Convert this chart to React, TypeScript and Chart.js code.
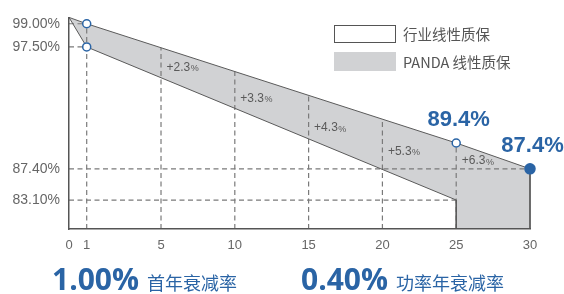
import React, { useEffect, useRef } from 'react';
import { Chart, registerables, LinearScale } from 'chart.js';

// ---------- data ----------
const pandaYears = [0, 1, 25, 30, 30];
const pandaValues = [100, 99, 89.4, 87.4, 80];
const industryYears = [0, 1, 25, 25];
const industryValues = [100, 97.5, 83.1, 80];

const xTicks = [0, 1, 5, 10, 15, 20, 25, 30];
const yTicks = [83.1, 87.4, 97.5, 99];

const gainYears = [5, 10, 15, 20, 25];
const gainLabels = ['+2.3', '+3.3', '+4.3', '+5.3', '+6.3'];
const gainLabelValues = [95.75, 93.15, 90.65, 88.75, 88.0];

const refYears = [1, 1, 25, 30];
const refValues = [99, 97.5, 83.1, 87.4];
const dropYears = [1, 5, 10, 15, 20, 25];

const calloutYears = [25, 30];
const calloutValues = [89.4, 87.4];

const legendLabels = ['行业线性质保', 'PANDA 线性质保'];
const summaryValues = ['1.00%', '0.40%'];
const summaryLabels = ['首年衰减率', '功率年衰减率'];

// ---------- schematic (piecewise) axis layout ----------
const BREAKS: Record<string, number[][]> = {
  x: [[0, 0], [1, 0.0384], [5, 0.1996], [30, 1]],
  y: [[80, 0], [83.1, 0.1369], [87.4, 0.2843], [89.4, 0.4065], [97.5, 0.8604], [99, 0.97], [100, 1]],
};

function interp(b: number[][], v: number, from: number, to: number) {
  for (let i = 0; i < b.length - 1; i++) {
    const a = b[i], c = b[i + 1];
    if (v <= c[from] || i === b.length - 2) {
      const t = (v - a[from]) / (c[from] - a[from]);
      return a[to] + t * (c[to] - a[to]);
    }
  }
  return 0;
}

class PiecewiseScale extends LinearScale {
  static id = 'piecewise';
  static defaults = { ...(LinearScale as any).defaults };
  getPixelForValue(value: number) {
    const self = this as any;
    const f = interp(BREAKS[self.id], value, 0, 1);
    return self.isHorizontal() ? self.left + f * self.width : self.bottom - f * self.height;
  }
  getValueForPixel(pixel: number) {
    const self = this as any;
    const f = self.isHorizontal() ? (pixel - self.left) / self.width : (self.bottom - pixel) / self.height;
    return interp(BREAKS[self.id], f, 1, 0);
  }
}

Chart.register(...registerables, PiecewiseScale as any);

const BLUE = '#2a64a5';
const LINE = '#5a5a5a';
const GREY = '#d1d2d4';
const FONT = "'Liberation Sans', Arial, sans-serif";

function lineYAt(points: any[], px: number) {
  for (let i = 0; i < points.length - 1; i++) {
    const a = points[i], b = points[i + 1];
    if (b.x > a.x && px >= a.x - 0.01 && px <= b.x + 0.01) {
      return a.y + ((px - a.x) / (b.x - a.x)) * (b.y - a.y);
    }
  }
  return points[points.length - 1].y;
}

const refPlugin = {
  id: 'refLines',
  beforeDatasetsDraw(chart: any) {
    const { ctx, scales } = chart;
    const x = scales.x, y = scales.y;
    const upper = chart.getDatasetMeta(1).data;
    ctx.save();
    ctx.setLineDash([5, 3.5]);
    ctx.strokeStyle = '#7a7a7a';
    ctx.lineWidth = 1.2;
    dropYears.forEach((yr) => {
      const px = x.getPixelForValue(yr);
      const top = lineYAt(upper, px);
      ctx.beginPath();
      ctx.moveTo(px, y.bottom);
      ctx.lineTo(px, top);
      ctx.stroke();
    });
    refYears.forEach((yr, i) => {
      const py = y.getPixelForValue(refValues[i]);
      ctx.beginPath();
      ctx.moveTo(x.left, py);
      ctx.lineTo(x.getPixelForValue(yr), py);
      ctx.stroke();
    });
    ctx.restore();
  },
  afterDatasetsDraw(chart: any) {
    const { ctx, scales } = chart;
    const x = scales.x, y = scales.y;
    ctx.save();
    ctx.textBaseline = 'middle';
    ctx.fillStyle = '#5a5a5a';
    gainYears.forEach((yr, i) => {
      const px = x.getPixelForValue(yr) + 5.5;
      const py = y.getPixelForValue(gainLabelValues[i]);
      ctx.textAlign = 'left';
      ctx.font = `12px ${FONT}`;
      ctx.fillText(gainLabels[i], px, py);
      const w = ctx.measureText(gainLabels[i]).width;
      ctx.font = `9px ${FONT}`;
      ctx.fillText('%', px + w + 0.5, py + 1);
    });
    ctx.fillStyle = BLUE;
    ctx.textAlign = 'center';
    ctx.textBaseline = 'alphabetic';
    ctx.font = `bold 22px ${FONT}`;
    calloutYears.forEach((yr, i) => {
      const px = x.getPixelForValue(yr);
      const py = y.getPixelForValue(calloutValues[i]);
      ctx.fillText(calloutValues[i].toFixed(1) + '%', px + 2.5, py - 16.5);
    });
    ctx.restore();
  },
};

export default function App() {
  const ref = useRef<HTMLCanvasElement>(null);
  useEffect(() => {
    if (!ref.current) return;
    const chart = new Chart(ref.current, {
      type: 'line',
      data: {
        datasets: [
          {
            label: legendLabels[0],
            data: industryYears.map((yr, i) => ({ x: yr, y: industryValues[i] })),
            borderColor: LINE,
            borderWidth: 1,
            backgroundColor: '#ffffff',
            fill: 'start',
            pointRadius: [0, 4, 0, 0],
            pointBorderColor: BLUE,
            pointBackgroundColor: '#ffffff',
            pointBorderWidth: 1.5,
            clip: false as any,
          },
          {
            label: legendLabels[1],
            data: pandaYears.map((yr, i) => ({ x: yr, y: pandaValues[i] })),
            borderColor: LINE,
            borderWidth: 1,
            backgroundColor: GREY,
            fill: 'start',
            pointRadius: [0, 4, 4, 5, 0],
            pointBorderColor: BLUE,
            pointBackgroundColor: ['#ffffff', '#ffffff', '#ffffff', BLUE, '#ffffff'],
            pointBorderWidth: 1.5,
            clip: false as any,
          },
        ],
      },
      options: {
        responsive: false,
        animation: false,
        devicePixelRatio: 1,
        events: [],
        layout: { padding: { top: 12, right: 34, left: 0, bottom: 0 } },
        elements: { line: { tension: 0 } },
        plugins: {
          legend: { display: false },
          tooltip: { enabled: false },
          filler: { drawTime: 'beforeDatasetsDraw' } as any,
        },
        scales: {
          x: {
            type: 'piecewise' as any,
            min: 0,
            max: 30,
            grid: { display: false, drawTicks: false },
            border: { display: true, color: '#555', width: 1.5, z: 1 } as any,
            ticks: {
              autoSkip: false,
              maxRotation: 0,
              padding: 9,
              color: '#666',
              font: { family: FONT, size: 13 },
              callback: (v: any) => String(v),
            },
            afterBuildTicks: (s: any) => {
              s.ticks = xTicks.map((v) => ({ value: v }));
            },
            afterFit: (s: any) => {
              s.height = 65;
            },
          },
          y: {
            type: 'piecewise' as any,
            min: 80,
            max: 100,
            grid: { display: false, drawTicks: false },
            border: { display: true, color: '#555', width: 1.5, z: 1 } as any,
            ticks: {
              autoSkip: false,
              padding: 9,
              color: '#666',
              font: { family: FONT, size: 14 },
              callback: (v: any) => Number(v).toFixed(2) + '%',
            },
            afterBuildTicks: (s: any) => {
              s.ticks = yTicks.map((v) => ({ value: v }));
            },
            afterFit: (s: any) => {
              s.width = 69;
            },
          },
        },
      },
      plugins: [refPlugin],
    });
    return () => chart.destroy();
  }, []);

  const cjk = "'Noto Sans CJK SC', 'Liberation Sans', sans-serif";
  return (
    <div style={{ position: 'absolute', left: 0, top: 0, width: 564, height: 294, overflow: 'hidden', background: '#fff' }}>
      <canvas ref={ref} width={564} height={294} style={{ display: 'block', width: 564, height: 294 }} />
      {/* legend */}
      <div style={{ position: 'absolute', left: 334, top: 25, width: 62, height: 18, boxSizing: 'border-box', border: '1px solid #555', background: '#fff' }} />
      <div style={{ position: 'absolute', left: 403, top: 25, height: 18, lineHeight: '18px', fontFamily: cjk, fontSize: 14.5, color: '#555', whiteSpace: 'nowrap' }}>{legendLabels[0]}</div>
      <div style={{ position: 'absolute', left: 334, top: 52, width: 62, height: 19, background: GREY }} />
      <div style={{ position: 'absolute', left: 403, top: 52, height: 19, lineHeight: '19px', fontFamily: cjk, fontSize: 14.5, color: '#555', whiteSpace: 'nowrap' }}>{legendLabels[1]}</div>
      {/* summary */}
      {[52, 301].map((left, i) => (
        <div key={i} style={{ position: 'absolute', left, top: 264, height: 30, display: 'flex', alignItems: 'baseline', whiteSpace: 'nowrap', color: BLUE }}>
          <span style={{ fontFamily: "'Open Sans', sans-serif", fontWeight: 700, fontSize: 30, lineHeight: '30px' }}>{summaryValues[i]}</span>
          <span style={{ fontFamily: cjk, fontSize: 18, lineHeight: '30px', marginLeft: 8 }}>{summaryLabels[i]}</span>
        </div>
      ))}
    </div>
  );
}
